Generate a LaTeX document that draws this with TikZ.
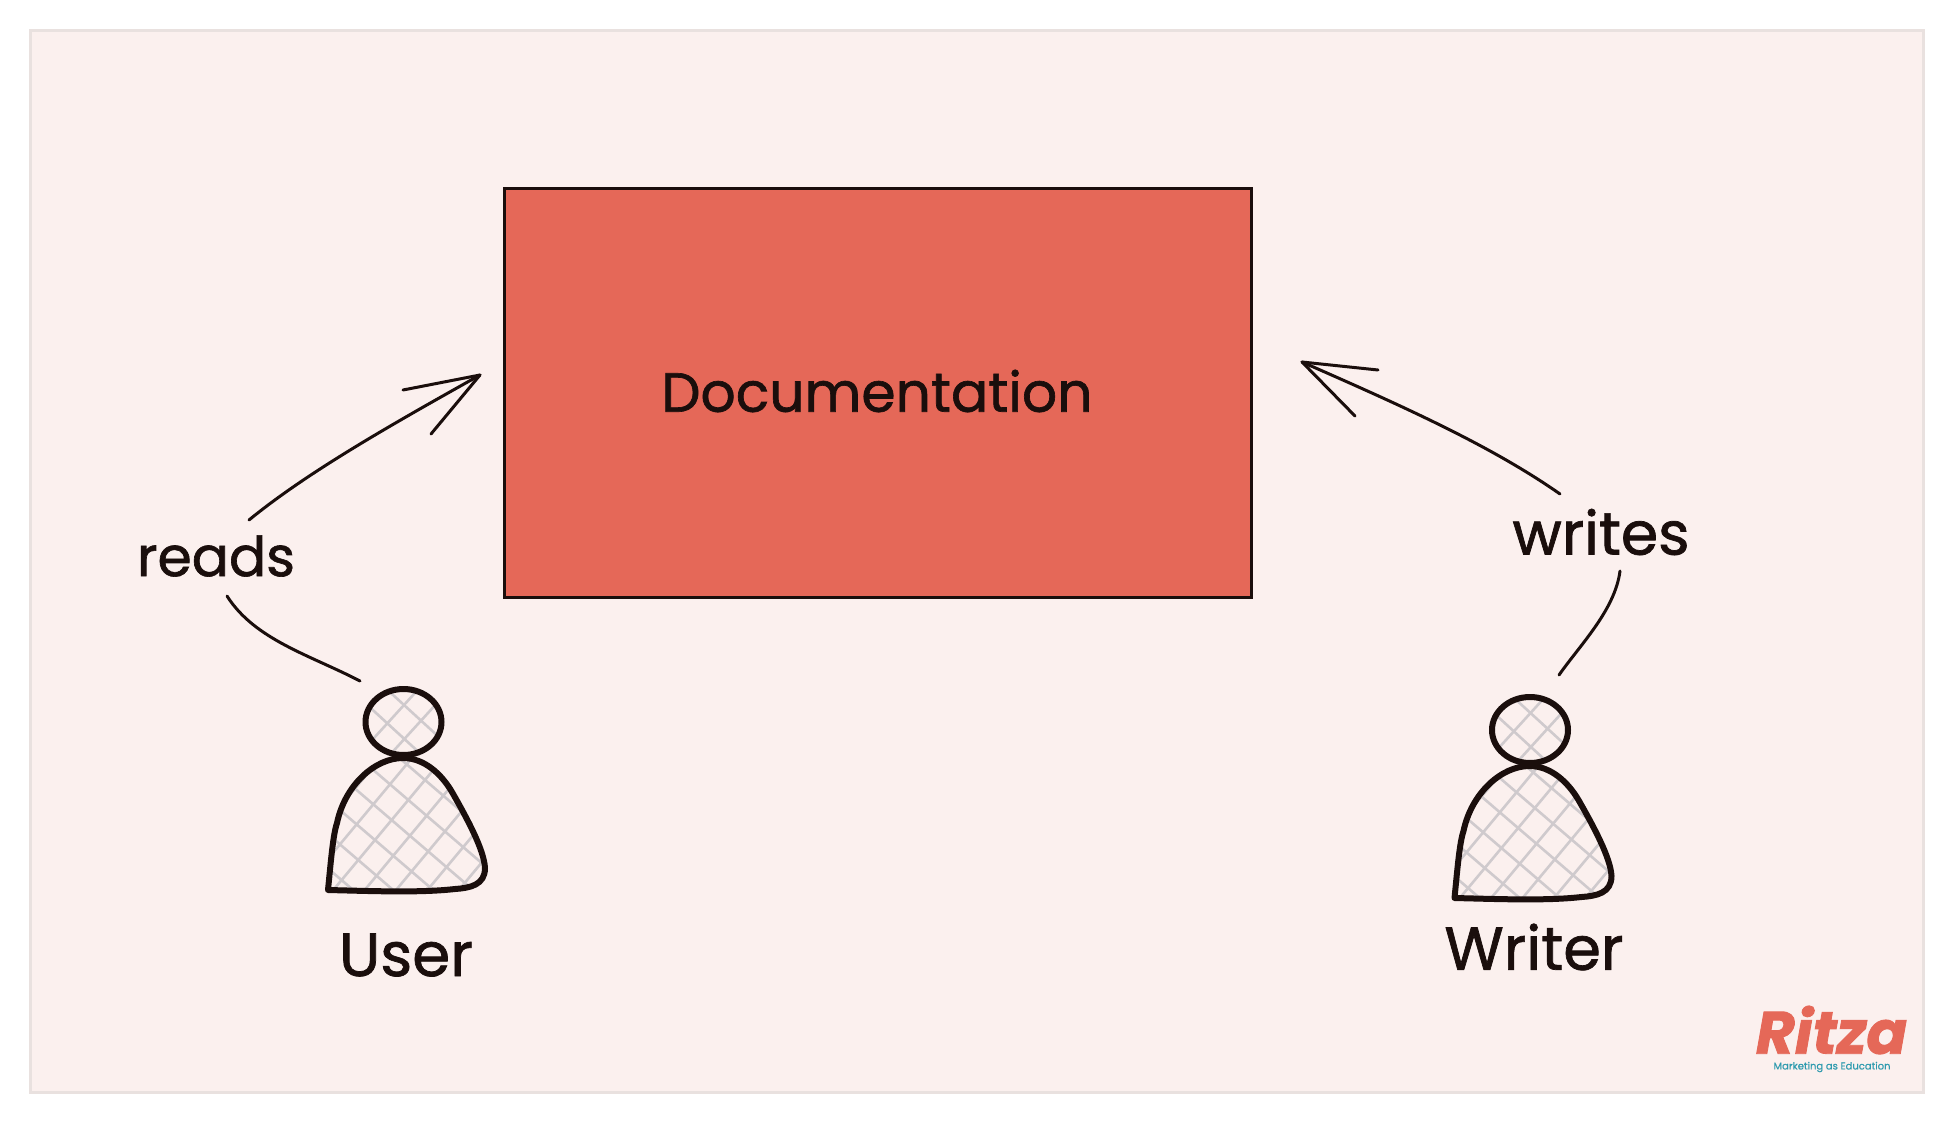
\documentclass[tikz,border=0pt]{standalone}
\usepackage{fontspec}
\setmainfont{Poppins}
\newfontfamily\handfont[FakeBold=1.2]{Poppins}
\newfontfamily\logofont[FakeBold=1.5,ItalicFont=Poppins Bold Italic,BoldFont=Poppins Bold,BoldItalicFont=Poppins Bold Italic]{Poppins}
\newfontfamily\tagfont[FakeBold=0.6]{Poppins}
\definecolor{ink}{HTML}{1A0E0C}
\definecolor{panelfill}{HTML}{FBF0EE}
\definecolor{panelline}{HTML}{E9E1DF}
\definecolor{docfill}{HTML}{E56858}
\definecolor{hatchc}{HTML}{CFCACD}
\definecolor{tagc}{HTML}{2E9AAE}
\tikzset{
  handtext/.style={text=ink,inner sep=0pt,font=\handfont\fontsize{20}{24}\selectfont},
  conn/.style={draw=ink,line width=3pt,line cap=round,line join=round},
  hatchline/.style={draw=hatchc,line width=2.6pt},
  personline/.style={draw=ink,line width=6pt,line join=round,line cap=round}
}
\newcommand{\wtext}[2]{\resizebox{#1pt}{!}{#2}}
\newcommand{\personshape}[2]{%
\begin{scope}[shift={(#1,#2)}]
  \begin{scope}
    \clip (403.5,722) ellipse [x radius=38,y radius=33];
    \foreach \i in {-4,...,4}{
      \draw[hatchline] ($(404,705)+\i*(-16.7,18.3)+(-60,-55)$) -- ++(120,110);
      \draw[hatchline] ($(404,705)+\i*(16.7,16)+(50,-55)$) -- ++(-100,110);
    }
  \end{scope}
  \begin{scope}
    \clip (328,890) .. controls (331,860) and (333,835) .. (337,823)
      .. controls (345,785) and (375,758) .. (403,758)
      .. controls (425,758) and (442,775) .. (452,792)
      .. controls (468,820) and (484,850) .. (485,868)
      .. controls (485,885) and (470,888) .. (455,889)
      .. controls (420,893) and (370,891) .. (328,890) -- cycle;
    \foreach \i in {-8,...,8}{
      \draw[hatchline] ($(408.3,800)+\i*(-16.7,20)+(-183,-157)$) -- ++(366,314);
      \draw[hatchline] ($(408.3,800)+\i*(18.3,15.7)+(125,-150)$) -- ++(-250,300);
    }
  \end{scope}
  \draw[personline] (403.5,722) ellipse [x radius=38,y radius=33];
  \draw[personline] (328,890) .. controls (331,860) and (333,835) .. (337,823)
      .. controls (345,785) and (375,758) .. (403,758)
      .. controls (425,758) and (442,775) .. (452,792)
      .. controls (468,820) and (484,850) .. (485,868)
      .. controls (485,885) and (470,888) .. (455,889)
      .. controls (420,893) and (370,891) .. (328,890) -- cycle;
\end{scope}}
\usetikzlibrary{calc}
\begin{document}
\begin{tikzpicture}[x=1pt,y=-1pt]
\useasboundingbox (0,0) rectangle (1952,1122);
\fill[white] (0,0) rectangle (1952,1122);
\draw[fill=panelfill,draw=panelline,line width=3pt] (30,30) rectangle (1923,1092.5);
\node[draw=ink,fill=docfill,line width=3pt,minimum width=747pt,minimum height=409pt,inner sep=0pt,anchor=center] (doc) at (877.5,392.5) {};
\node[handtext] (doclabel) at (877,391) {\wtext{431}{Documentation}};
\node[handtext] (reads) at (216,556) {\wtext{158}{reads}};
\node[handtext] (writes) at (1601,532) {\wtext{177}{writes}};
\node[handtext] (userlabel) at (406,955) {\wtext{134}{User}};
\node[handtext] (writerlabel) at (1534,947) {\wtext{179}{Writer}};
\personshape{0}{0}
\personshape{1126.5}{8}
\coordinate (ra) at (227,596);
\coordinate (rb) at (360,681);
\coordinate (rc) at (249,520);
\coordinate (rt) at (480,375);
\coordinate (rh1) at (403,390);
\coordinate (rh2) at (431,434);
\coordinate (wa) at (1620,571);
\coordinate (wb) at (1559,675);
\coordinate (wc) at (1560,494);
\coordinate (wt) at (1302,362);
\coordinate (wh1) at (1378,370);
\coordinate (wh2) at (1355,416);
\draw[conn] (rb) .. controls (310,655) and (255,640) .. (ra);
\draw[conn] (rc) .. controls (310,470) and (400,420) .. (rt);
\draw[conn] (rh1) -- (rt) -- (rh2);
\draw[conn] (wb) .. controls (1580,645) and (1615,610) .. (wa);
\draw[conn] (wc) .. controls (1490,445) and (1400,405) .. (wt);
\draw[conn] (wh1) -- (wt) -- (wh2);
\node[inner sep=0pt,text=docfill,font=\logofont\itshape,anchor=center] (ritza) at (1831.5,1030) {\wtext{151}{Ritza}};
\node[inner sep=0pt,text=tagc,font=\tagfont,anchor=center] (tag) at (1832,1067) {\wtext{117}{Marketing as Education}};
\end{tikzpicture}
\end{document}
